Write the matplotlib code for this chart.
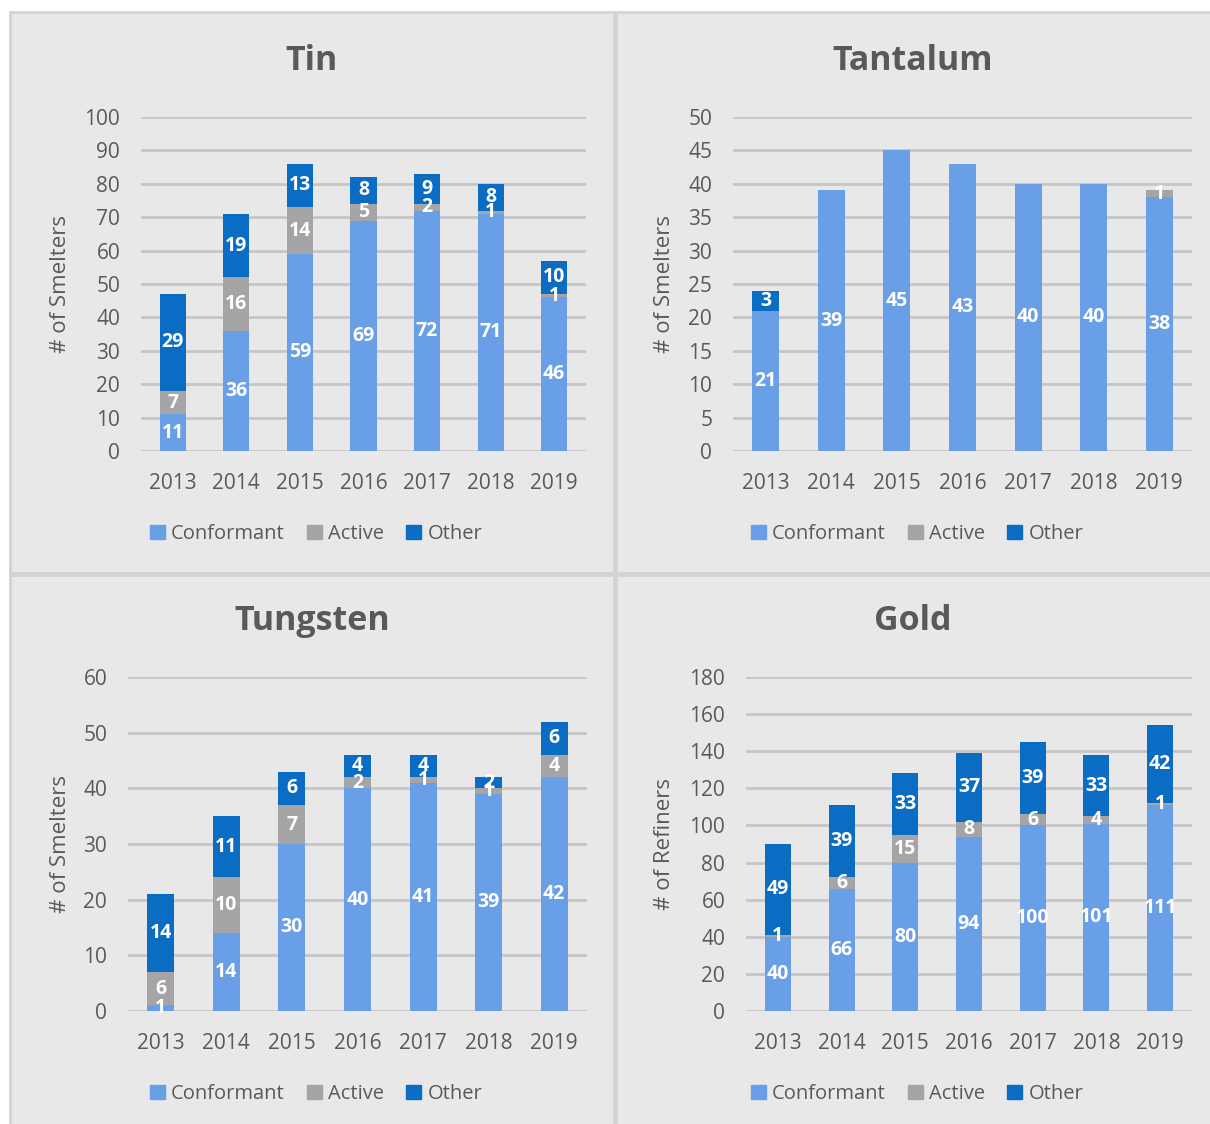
import matplotlib
matplotlib.use("Agg")
import matplotlib.pyplot as plt
from matplotlib.patches import Patch, Rectangle
import numpy as np

plt.rcParams["font.family"] = ["Open Sans", "DejaVu Sans"]

YEARS = ["2013", "2014", "2015", "2016", "2017", "2018", "2019"]

tin_conf = [11, 36, 59, 69, 72, 71, 46]
tin_active = [7, 16, 14, 5, 2, 1, 1]
tin_other = [29, 19, 13, 8, 9, 8, 10]

ta_conf = [21, 39, 45, 43, 40, 40, 38]
ta_active = [0, 0, 0, 0, 0, 0, 1]
ta_other = [3, 0, 0, 0, 0, 0, 0]

w_conf = [1, 14, 30, 40, 41, 39, 42]
w_active = [6, 10, 7, 2, 1, 1, 4]
w_other = [14, 11, 6, 4, 4, 2, 6]

au_conf = [40, 66, 80, 94, 100, 101, 111]
au_active = [1, 6, 15, 8, 6, 4, 1]
au_other = [49, 39, 33, 37, 39, 33, 42]

C_CONF = "#699fe7"
C_ACT = "#a5a5a5"
C_OTH = "#0b6cc4"
BG = "#e8e8e8"
TXT = "#595959"
GRID = "#c6c6c6"

W, H = 1210, 1124
fig = plt.figure(figsize=(W / 100, H / 100), dpi=100)
fig.patch.set_facecolor("white")


def px_box(x0, y0, x1, y1):
    return [x0 / W, 1 - y1 / H, (x1 - x0) / W, (y1 - y0) / H]


# panel backgrounds (behind the axes)
for (x0, y0, x1, y1) in [(10, 12, 614, 573), (616, 12, 1212, 573),
                         (10, 575, 614, 1126), (616, 575, 1212, 1126)]:
    fig.patches.append(Rectangle((x0 / W, 1 - y1 / H), (x1 - x0) / W, (y1 - y0) / H,
                                 transform=fig.transFigure, facecolor=BG,
                                 edgecolor="#d3d3d3", lw=2, zorder=-5))

panels = [
    # title, conf, active, other, ymax, step, ylabel, axes px box, panel x-range, title y, legend y
    ("Tin", tin_conf, tin_active, tin_other, 100, 10, "# of Smelters",
     (141, 117, 586, 451), (10, 614), 61, 534),
    ("Tantalum", ta_conf, ta_active, ta_other, 50, 5, "# of Smelters",
     (733, 117, 1192, 451), (616, 1210), 61, 534),
    ("Tungsten", w_conf, w_active, w_other, 60, 10, "# of Smelters",
     (128, 677, 587, 1011), (10, 614), 621, 1094),
    ("Gold", au_conf, au_active, au_other, 180, 20, "# of Refiners",
     (746, 677, 1192, 1011), (616, 1210), 621, 1094),
]

for title, conf, act, oth, ymax, step, ylab, box, prange, ty, ly in panels:
    ax = fig.add_axes(px_box(*box))
    ax.set_facecolor("none")
    x = np.arange(len(YEARS))
    conf = np.array(conf); act = np.array(act); oth = np.array(oth)
    bw = 0.41
    ax.bar(x, conf, bw, color=C_CONF, zorder=3)
    ax.bar(x, act, bw, bottom=conf, color=C_ACT, zorder=3)
    ax.bar(x, oth, bw, bottom=conf + act, color=C_OTH, zorder=3)
    for vals, base in [(conf, np.zeros(7)), (act, conf), (oth, conf + act)]:
        for xi, v, b in zip(x, vals, base):
            if v > 0:
                ax.text(xi, b + v / 2, str(v), ha="center", va="center",
                        color="white", fontsize=14, fontweight="bold", zorder=4)
    ax.set_xlim(-0.5, 6.5)
    ax.set_ylim(0, ymax)
    ax.set_yticks(np.arange(0, ymax + 1, step))
    ax.set_xticks(x)
    ax.set_xticklabels(YEARS)
    ax.yaxis.grid(True, color=GRID, lw=2, zorder=1)
    ax.set_axisbelow(True)
    for s in ax.spines.values():
        s.set_visible(False)
    ax.tick_params(axis="both", length=0, labelsize=15, colors=TXT)
    ax.tick_params(axis="y", pad=15)
    ax.tick_params(axis="x", pad=16)

    cx = (prange[0] + prange[1]) / 2 / W
    fig.text(cx, 1 - ty / H, title, ha="center", va="center",
             fontsize=24.5, fontweight="bold", color=TXT)
    yl_x = 60 if prange[0] < 100 else 665
    fig.text(yl_x / W, 1 - (box[1] + box[3]) / 2 / H, ylab, rotation=90,
             ha="center", va="center", fontsize=16, color=TXT)
    handles = [Patch(color=C_CONF), Patch(color=C_ACT), Patch(color=C_OTH)]
    fig.legend(handles, ["Conformant", "Active", "Other"], loc="center",
               bbox_to_anchor=(cx + 4 / W, 1 - ly / H), ncol=3, frameon=False,
               fontsize=14.5, handlelength=0.75, handleheight=0.75,
               handletextpad=0.3, columnspacing=1.1, labelcolor=TXT)

fig.savefig("out.png", dpi=100)
